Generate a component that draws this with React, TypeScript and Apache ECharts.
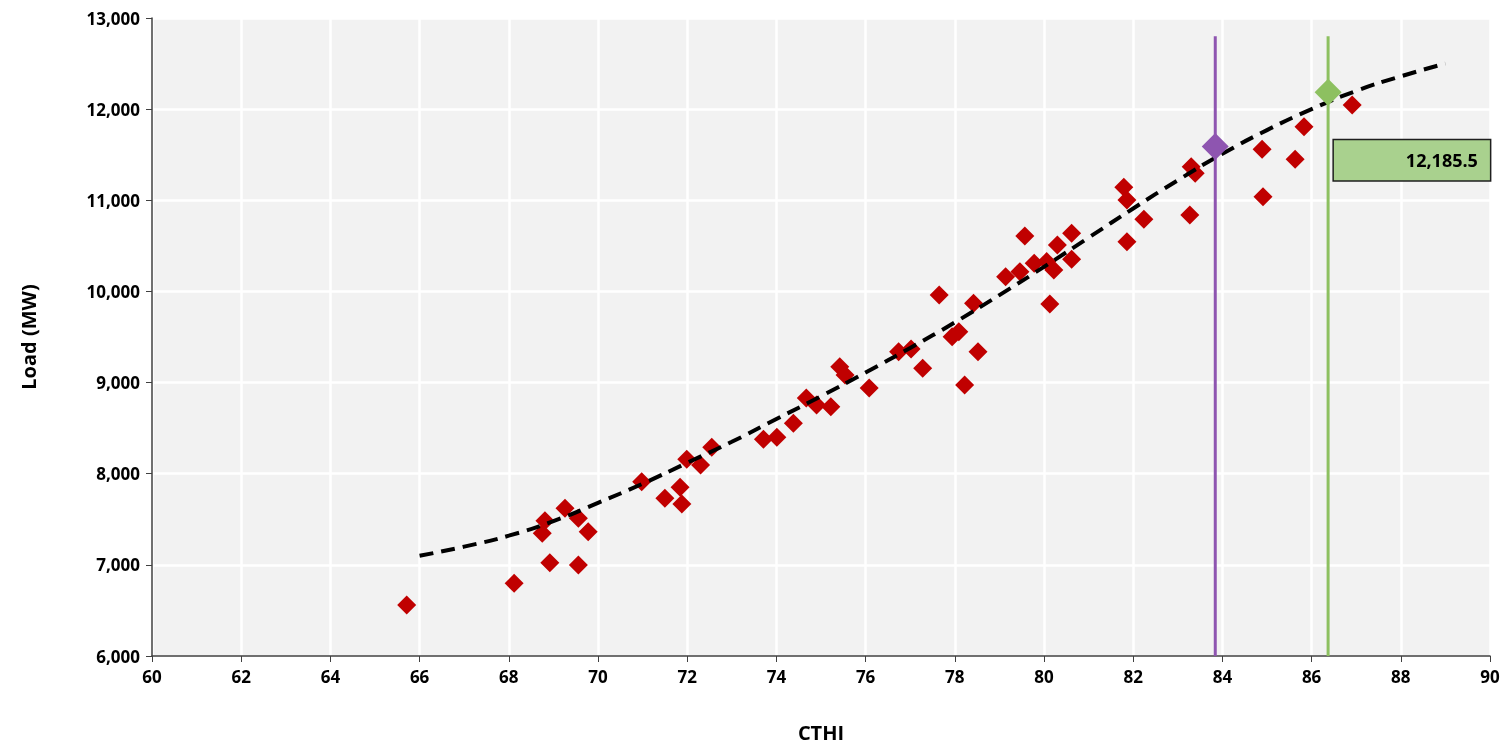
import React, { useRef, useEffect } from 'react';
import * as echarts from 'echarts';

const observed: [number, number][] = [
  [65.71, 6559], [68.12, 6797], [68.75, 7346], [68.81, 7484], [68.92, 7024],
  [69.26, 7620], [69.56, 7510], [69.56, 6998], [69.78, 7364], [70.98, 7912],
  [71.5, 7730], [71.84, 7851], [71.88, 7668], [71.99, 8158], [72.3, 8095],
  [72.55, 8290], [73.71, 8378], [74.01, 8399], [74.38, 8553], [74.67, 8830],
  [74.9, 8754], [75.22, 8735], [75.42, 9174], [75.54, 9083], [76.08, 8940],
  [76.74, 9339], [77.02, 9368], [77.28, 9156], [77.65, 9961], [77.94, 9503],
  [78.09, 9558], [78.22, 8973], [78.42, 9870], [78.52, 9339], [79.14, 10162],
  [79.46, 10217], [79.57, 10608], [79.78, 10309], [80.06, 10327], [80.22, 10235],
  [80.13, 9862], [80.3, 10509], [80.62, 10638], [80.62, 10353], [81.79, 11142],
  [81.86, 11003], [81.86, 10546], [82.24, 10791], [83.27, 10839], [83.3, 11369],
  [83.39, 11296], [84.89, 11560], [84.91, 11039], [85.63, 11450], [85.83, 11807],
  [86.91, 12045],
];

const trendX = [66, 67, 68, 69, 70, 71, 72, 73, 74, 75, 76, 77, 78, 79, 80, 81, 82, 83, 84, 85, 86, 87, 88, 89];
const trendY = [7100, 7200, 7320, 7480, 7680, 7890, 8120, 8350, 8600, 8850, 9110, 9380, 9660, 9960, 10270, 10590, 10910, 11220, 11510, 11770, 12000, 12200, 12360, 12500];

const purplePoint: [number, number] = [83.84, 11590];
const greenPoint: [number, number] = [86.37, 12185.5];
const lineTop = 12800;
const labelAnchor: [number, number] = [86.5, 11660];

const font = '"Open Sans", sans-serif';

export default function App() {
  const ref = useRef<HTMLDivElement>(null);

  useEffect(() => {
    if (!ref.current) return;
    const chart = echarts.init(ref.current, undefined, { renderer: 'svg' });
    const axisLabel = { color: '#000', fontFamily: font, fontWeight: 'bold' as const, fontSize: 17 };
    chart.setOption({
      animation: false,
      grid: {
        left: 152, right: 13, top: 18, bottom: 95, show: true, backgroundColor: '#f2f2f2', borderWidth: 0,
        outerBoundsMode: 'none',
      },
      xAxis: {
        type: 'value', min: 60, max: 90, interval: 2,
        name: 'CTHI', nameLocation: 'middle', nameGap: 66,
        nameTextStyle: { color: '#000', fontFamily: font, fontWeight: 'bold', fontSize: 20 },
        axisLine: { show: true, lineStyle: { color: '#404040', width: 1.5 } },
        axisTick: { show: true, length: 6, lineStyle: { color: '#404040' } },
        axisLabel: { ...axisLabel, margin: 12 },
        splitLine: { show: true, lineStyle: { color: '#fff', width: 2.5 } },
      },
      yAxis: {
        type: 'value', min: 6000, max: 13000, interval: 1000,
        name: 'Load (MW)', nameLocation: 'middle', nameGap: 114, nameRotate: 90,
        nameTextStyle: { color: '#000', fontFamily: font, fontWeight: 'bold', fontSize: 20 },
        axisLine: { show: true, lineStyle: { color: '#404040', width: 1.5 } },
        axisTick: { show: true, length: 6, lineStyle: { color: '#404040' } },
        axisLabel: { ...axisLabel, margin: 12, formatter: (v: number) => v.toLocaleString('en-US') },
        splitLine: { show: true, lineStyle: { color: '#fff', width: 2.5 } },
      },
      series: [
        {
          type: 'scatter', symbol: 'diamond', symbolSize: 19,
          itemStyle: { color: '#c00000', opacity: 1 }, data: observed, z: 3,
        },
        {
          type: 'line', data: trendX.map((x, i) => [x, trendY[i]]), smooth: true, symbol: 'none',
          lineStyle: { color: '#000', width: 4, type: [14, 8] }, z: 4,
        },
        {
          type: 'line', data: [[purplePoint[0], 6000], [purplePoint[0], lineTop]], symbol: 'none',
          lineStyle: { color: '#8e55b0', width: 3 }, z: 5,
        },
        {
          type: 'line', data: [[greenPoint[0], 6000], [greenPoint[0], lineTop]], symbol: 'none',
          lineStyle: { color: '#8dc060', width: 3 }, z: 5,
        },
        {
          type: 'scatter', symbol: 'diamond', symbolSize: 27,
          itemStyle: { color: '#8e55b0', opacity: 1 }, data: [purplePoint], z: 6,
        },
        {
          type: 'scatter', symbol: 'diamond', symbolSize: 27,
          itemStyle: { color: '#8dc060', opacity: 1 }, data: [greenPoint], z: 6,
        },
        {
          type: 'scatter', symbolSize: 0, data: [labelAnchor], z: 7,
          itemStyle: { opacity: 1 },
          label: {
            show: true, position: [0, 0], align: 'left', verticalAlign: 'top',
            formatter: () => '{a|' + greenPoint[1].toLocaleString('en-US', { minimumFractionDigits: 1 }) + '}',
            rich: { a: { width: 132, height: 20, align: 'right', color: '#000', fontFamily: font, fontWeight: 'bold', fontSize: 18 } },
            backgroundColor: '#a9d18e', borderColor: '#1f1f1f', borderWidth: 1.5,
            padding: [10, 12, 10, 12],
          },
        },
      ],
    });
    return () => chart.dispose();
  }, []);

  return <div ref={ref} style={{ position: 'fixed', left: 0, top: 0, width: 1503, height: 751 }} />;
}
